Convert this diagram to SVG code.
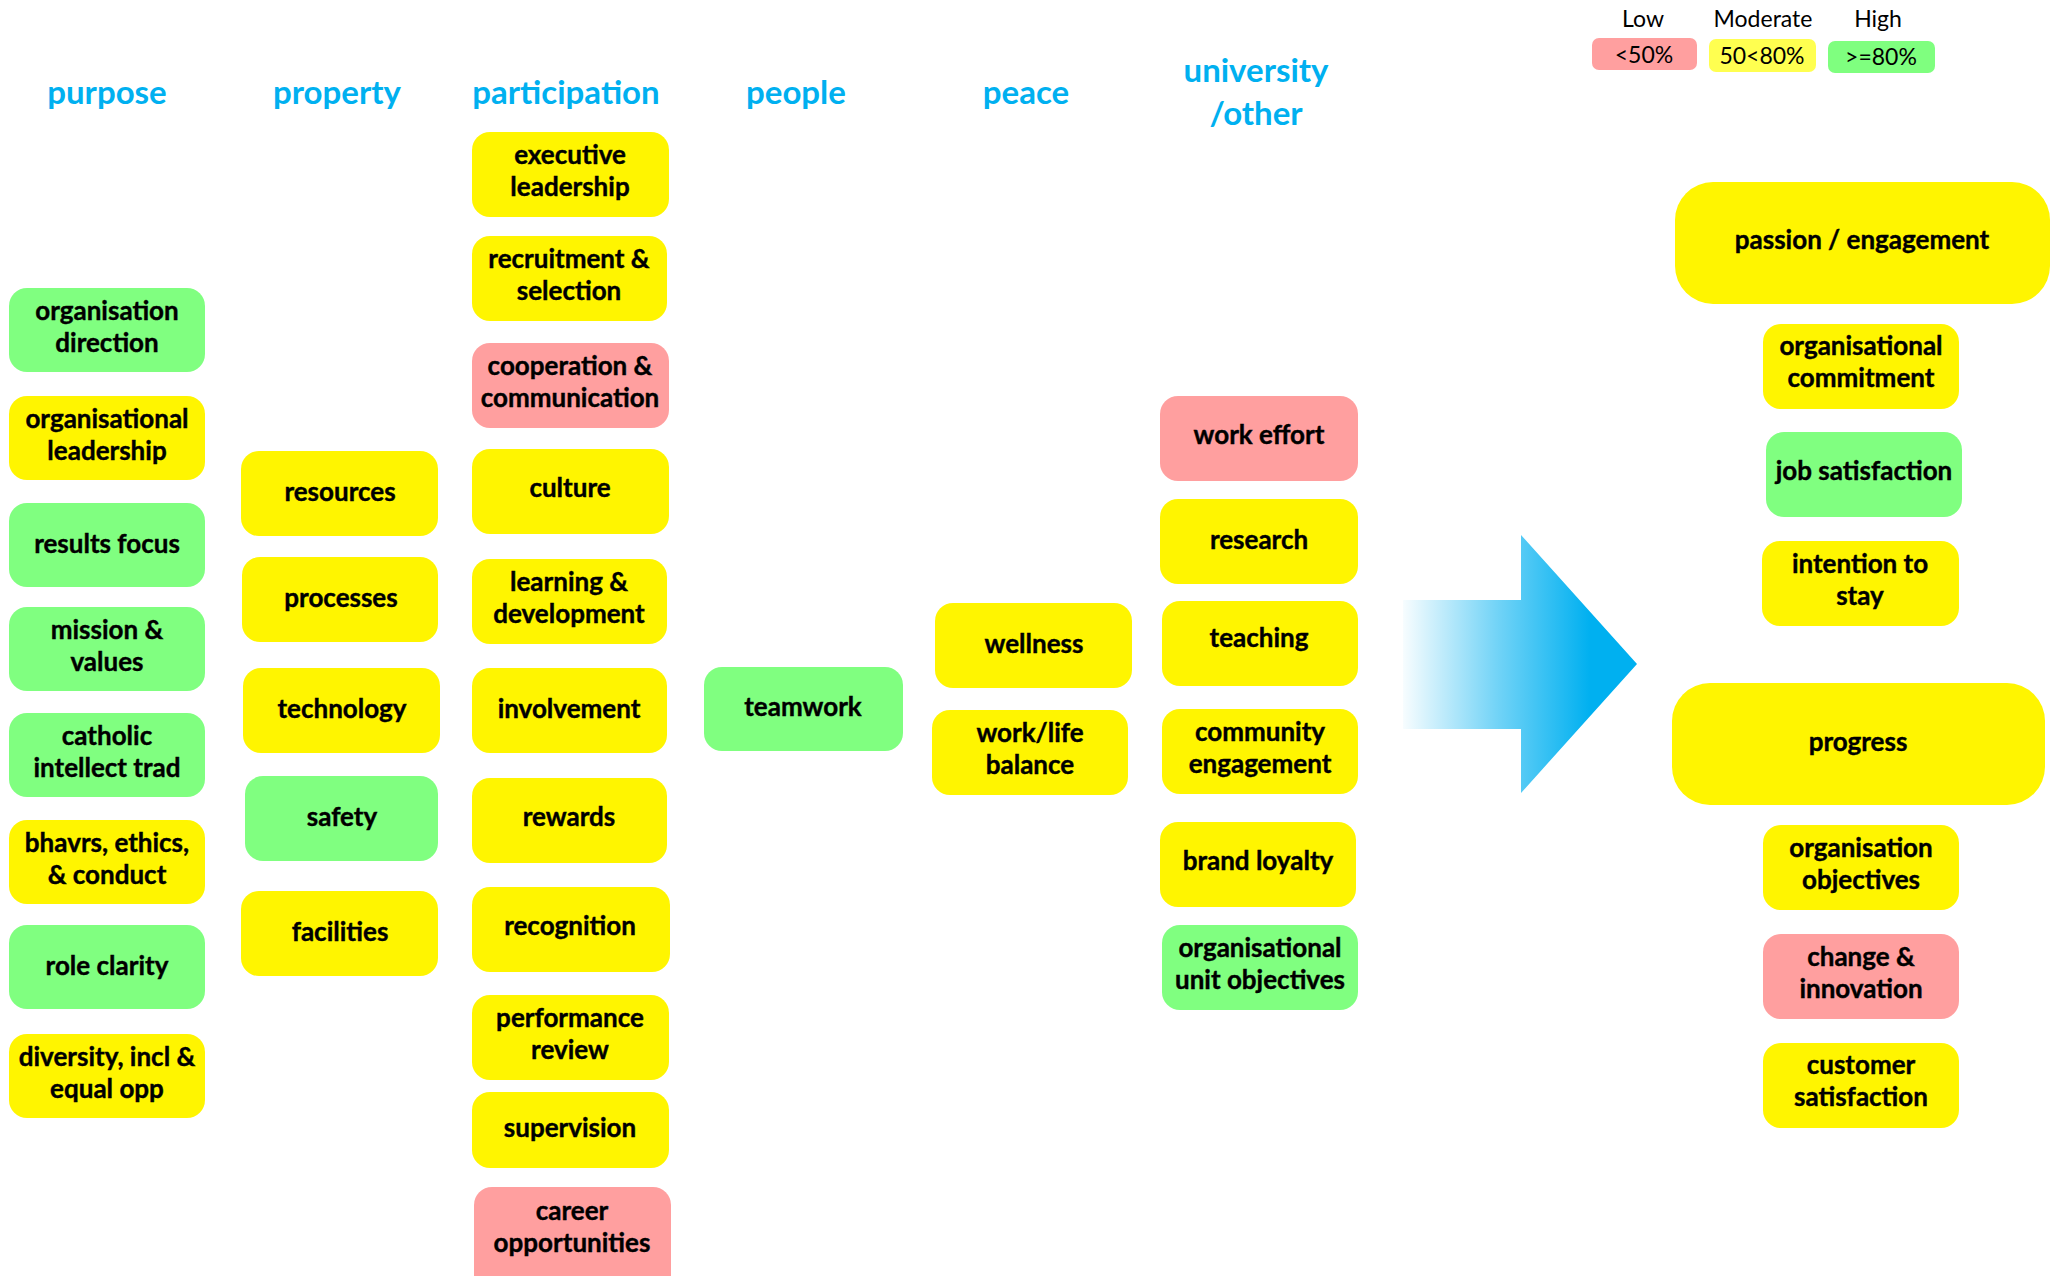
<svg xmlns="http://www.w3.org/2000/svg" width="2063" height="1276" viewBox="0 0 2063 1276">
<defs>
<style>
.g{fill:#80FF80}
.y{fill:#FFF500}
.r{fill:#FF9F9F}
.t{font-family:Lato,"Open Sans","Liberation Sans",sans-serif;font-weight:700;font-size:26px;text-anchor:middle;fill:#000;stroke:#000;stroke-width:0.4px}
.h{font-family:Lato,"Open Sans","Liberation Sans",sans-serif;font-weight:700;font-size:33px;text-anchor:middle;fill:#00B0F0}
.l{font-family:Lato,"Open Sans","Liberation Sans",sans-serif;font-weight:400;font-size:23px;text-anchor:middle;fill:#000}
</style>
<linearGradient id="ag" gradientUnits="userSpaceOnUse" x1="1403" y1="0" x2="1590" y2="0">
<stop offset="0" stop-color="#00B0F0" stop-opacity="0.03"/>
<stop offset="0.5" stop-color="#00B0F0" stop-opacity="0.55"/>
<stop offset="1" stop-color="#00B0F0"/>
</linearGradient>
</defs>
<rect width="2063" height="1276" fill="#fff"/>

<g id="headers">
<text class="h" x="107" y="104">purpose</text>
<text class="h" x="337" y="104">property</text>
<text class="h" x="566" y="104">participation</text>
<text class="h" x="796" y="104">people</text>
<text class="h" x="1026" y="104">peace</text>
<text class="h" x="1256" y="82">university</text>
<text class="h" x="1256" y="125">/other</text>
</g>

<g id="legend">
<text class="l" x="1643" y="27">Low</text>
<text class="l" x="1763" y="27">Moderate</text>
<text class="l" x="1878" y="27">High</text>
<rect x="1592" y="38" width="105" height="32" rx="7" fill="#FF9F9F"/>
<rect x="1709" y="39" width="107" height="33" rx="7" fill="#FFFF50"/>
<rect x="1828" y="41" width="107" height="32" rx="7" fill="#7FFF7F"/>
<text class="l" x="1644" y="63">&lt;50%</text>
<text class="l" x="1762" y="64">50&lt;80%</text>
<text class="l" x="1881" y="65">&gt;=80%</text>
</g>

<g id="connectors">
<path d="M1403,600 L1521,600 L1521,535 L1637,664 L1521,793 L1521,729 L1403,729 Z" fill="url(#ag)"/>
</g>

<g id="purpose">
<g id="organisation-direction"><rect class="g" x="9" y="288" width="196" height="84" rx="18"/><text class="t" x="107" y="320">organisation</text><text class="t" x="107" y="352">direction</text></g>
<g id="organisational-leadership"><rect class="y" x="9" y="396" width="196" height="84" rx="18"/><text class="t" x="107" y="428">organisational</text><text class="t" x="107" y="460">leadership</text></g>
<g id="results-focus"><rect class="g" x="9" y="503" width="196" height="84" rx="18"/><text class="t" x="107" y="553">results focus</text></g>
<g id="mission-values"><rect class="g" x="9" y="607" width="196" height="84" rx="18"/><text class="t" x="107" y="639">mission &amp;</text><text class="t" x="107" y="671">values</text></g>
<g id="catholic-intellect-trad"><rect class="g" x="9" y="713" width="196" height="84" rx="18"/><text class="t" x="107" y="745">catholic</text><text class="t" x="107" y="777">intellect trad</text></g>
<g id="bhavrs-ethics-conduct"><rect class="y" x="9" y="820" width="196" height="84" rx="18"/><text class="t" x="107" y="852">bhavrs, ethics,</text><text class="t" x="107" y="884">&amp; conduct</text></g>
<g id="role-clarity"><rect class="g" x="9" y="925" width="196" height="84" rx="18"/><text class="t" x="107" y="975">role clarity</text></g>
<g id="diversity"><rect class="y" x="9" y="1034" width="196" height="84" rx="18"/><text class="t" x="107" y="1066">diversity, incl &amp;</text><text class="t" x="107" y="1098">equal opp</text></g>
</g>

<g id="property">
<g id="resources"><rect class="y" x="241" y="451" width="197" height="85" rx="18"/><text class="t" x="340" y="501">resources</text></g>
<g id="processes"><rect class="y" x="242" y="557" width="196" height="85" rx="18"/><text class="t" x="341" y="607">processes</text></g>
<g id="technology"><rect class="y" x="243" y="668" width="197" height="85" rx="18"/><text class="t" x="342" y="718">technology</text></g>
<g id="safety"><rect class="g" x="245" y="776" width="193" height="85" rx="18"/><text class="t" x="342" y="826">safety</text></g>
<g id="facilities"><rect class="y" x="241" y="891" width="197" height="85" rx="18"/><text class="t" x="340" y="941">facilities</text></g>
</g>

<g id="participation">
<g id="executive-leadership"><rect class="y" x="472" y="132" width="197" height="85" rx="18"/><text class="t" x="570" y="164">executive</text><text class="t" x="570" y="196">leadership</text></g>
<g id="recruitment-selection"><rect class="y" x="472" y="236" width="195" height="85" rx="18"/><text class="t" x="569" y="268">recruitment &amp;</text><text class="t" x="569" y="300">selection</text></g>
<g id="cooperation-communication"><rect class="r" x="472" y="343" width="197" height="85" rx="18"/><text class="t" x="570" y="375">cooperation &amp;</text><text class="t" x="570" y="407">communication</text></g>
<g id="culture"><rect class="y" x="472" y="449" width="197" height="85" rx="18"/><text class="t" x="570" y="497">culture</text></g>
<g id="learning-development"><rect class="y" x="472" y="559" width="195" height="85" rx="18"/><text class="t" x="569" y="591">learning &amp;</text><text class="t" x="569" y="623">development</text></g>
<g id="involvement"><rect class="y" x="472" y="668" width="195" height="85" rx="18"/><text class="t" x="569" y="718">involvement</text></g>
<g id="rewards"><rect class="y" x="472" y="778" width="195" height="85" rx="18"/><text class="t" x="569" y="826">rewards</text></g>
<g id="recognition"><rect class="y" x="472" y="887" width="198" height="85" rx="18"/><text class="t" x="570" y="935">recognition</text></g>
<g id="performance-review"><rect class="y" x="472" y="995" width="197" height="85" rx="18"/><text class="t" x="570" y="1027">performance</text><text class="t" x="570" y="1059">review</text></g>
<g id="supervision"><rect class="y" x="472" y="1092" width="197" height="76" rx="18"/><text class="t" x="570" y="1137">supervision</text></g>
<g id="career-opportunities"><rect class="r" x="474" y="1187" width="197" height="115" rx="18"/><text class="t" x="572" y="1220">career</text><text class="t" x="572" y="1252">opportunities</text></g>
</g>

<g id="people">
<g id="teamwork"><rect class="g" x="704" y="667" width="199" height="84" rx="18"/><text class="t" x="803" y="716">teamwork</text></g>
</g>

<g id="peace">
<g id="wellness"><rect class="y" x="935" y="603" width="197" height="85" rx="18"/><text class="t" x="1034" y="653">wellness</text></g>
<g id="work-life-balance"><rect class="y" x="932" y="710" width="196" height="85" rx="18"/><text class="t" x="1030" y="742">work/life</text><text class="t" x="1030" y="774">balance</text></g>
</g>

<g id="university-other">
<g id="work-effort"><rect class="r" x="1160" y="396" width="198" height="85" rx="18"/><text class="t" x="1259" y="444">work effort</text></g>
<g id="research"><rect class="y" x="1160" y="499" width="198" height="85" rx="18"/><text class="t" x="1259" y="549">research</text></g>
<g id="teaching"><rect class="y" x="1162" y="601" width="196" height="85" rx="18"/><text class="t" x="1259" y="647">teaching</text></g>
<g id="community-engagement"><rect class="y" x="1162" y="709" width="196" height="85" rx="18"/><text class="t" x="1260" y="741">community</text><text class="t" x="1260" y="773">engagement</text></g>
<g id="brand-loyalty"><rect class="y" x="1160" y="822" width="196" height="85" rx="18"/><text class="t" x="1258" y="870">brand loyalty</text></g>
<g id="organisational-unit-objectives"><rect class="g" x="1162" y="925" width="196" height="85" rx="18"/><text class="t" x="1260" y="957">organisational</text><text class="t" x="1260" y="989">unit objectives</text></g>
</g>

<g id="outcomes">
<g id="passion-engagement"><rect class="y" x="1675" y="182" width="375" height="122" rx="38"/><text class="t" x="1862" y="249">passion / engagement</text></g>
<g id="organisational-commitment"><rect class="y" x="1763" y="324" width="196" height="85" rx="18"/><text class="t" x="1861" y="355">organisational</text><text class="t" x="1861" y="387">commitment</text></g>
<g id="job-satisfaction"><rect class="g" x="1766" y="432" width="196" height="85" rx="18"/><text class="t" x="1864" y="480">job satisfaction</text></g>
<g id="intention-to-stay"><rect class="y" x="1762" y="541" width="197" height="85" rx="18"/><text class="t" x="1860" y="573">intention to</text><text class="t" x="1860" y="605">stay</text></g>
<g id="progress"><rect class="y" x="1672" y="683" width="373" height="122" rx="38"/><text class="t" x="1858" y="751">progress</text></g>
<g id="organisation-objectives"><rect class="y" x="1763" y="825" width="196" height="85" rx="18"/><text class="t" x="1861" y="857">organisation</text><text class="t" x="1861" y="889">objectives</text></g>
<g id="change-innovation"><rect class="r" x="1763" y="934" width="196" height="85" rx="18"/><text class="t" x="1861" y="966">change &amp;</text><text class="t" x="1861" y="998">innovation</text></g>
<g id="customer-satisfaction"><rect class="y" x="1763" y="1043" width="196" height="85" rx="18"/><text class="t" x="1861" y="1074">customer</text><text class="t" x="1861" y="1106">satisfaction</text></g>
</g>
</svg>
